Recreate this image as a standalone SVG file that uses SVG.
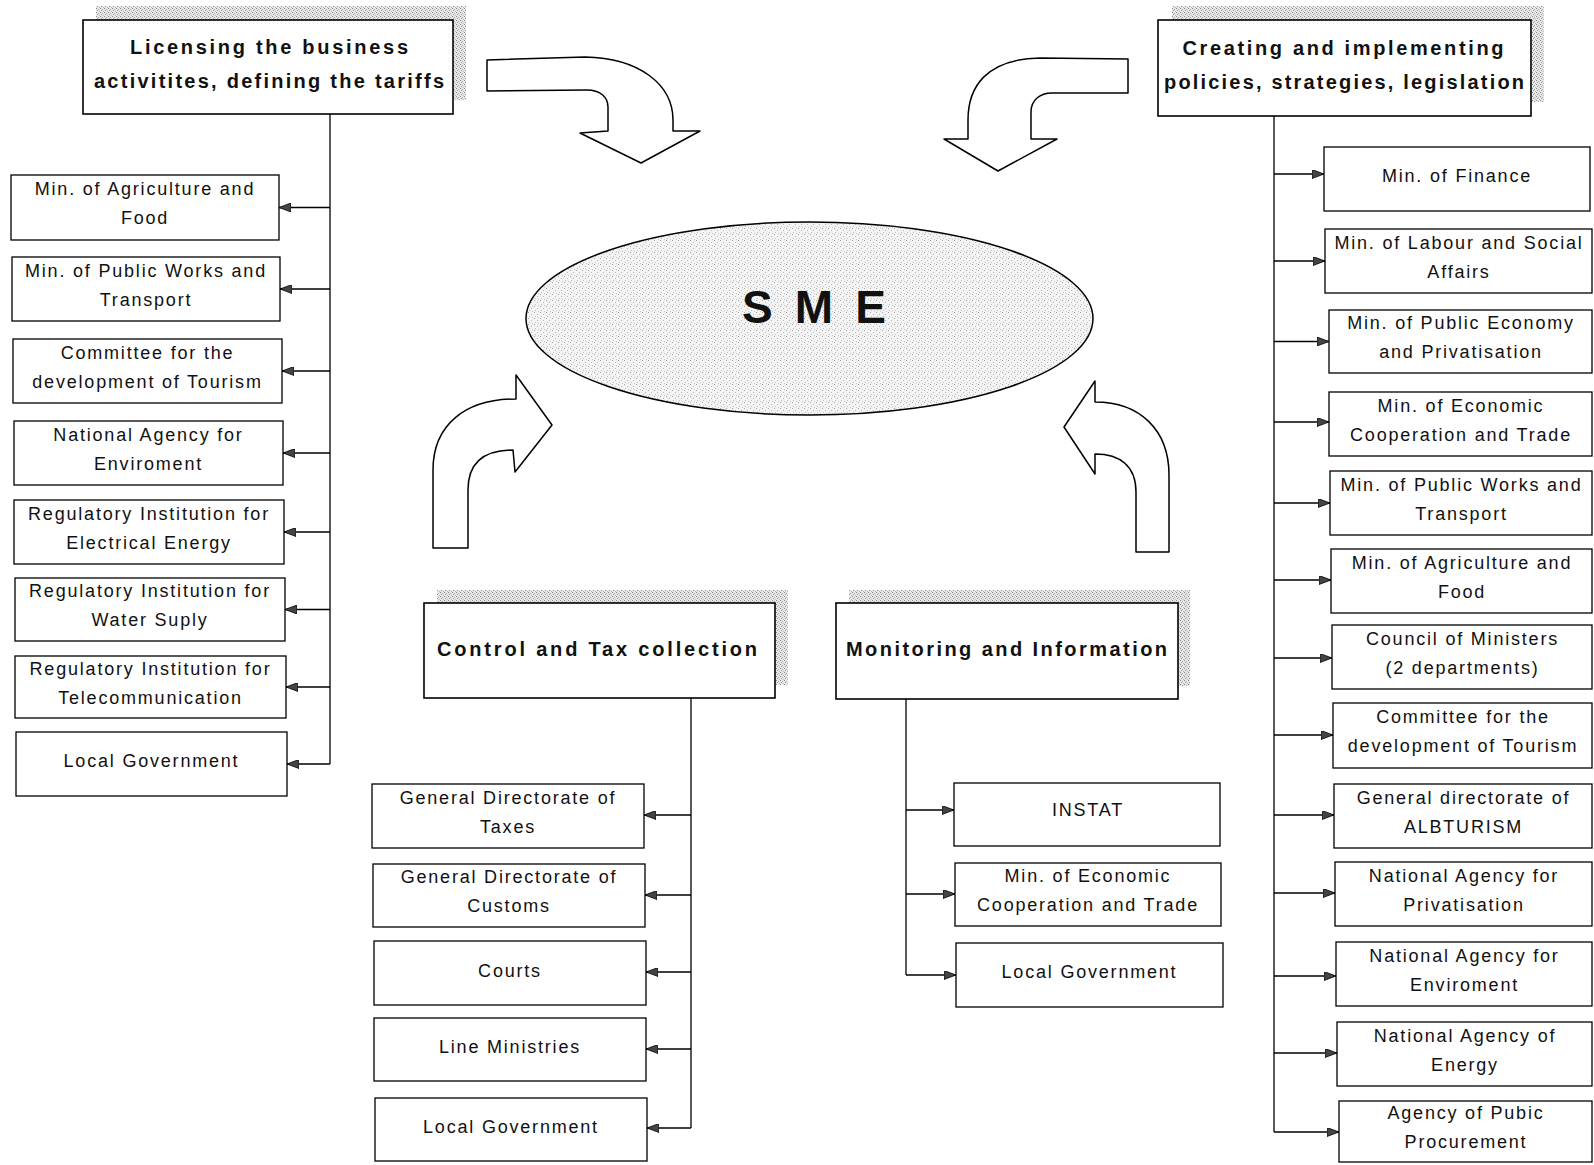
<svg xmlns="http://www.w3.org/2000/svg" width="1594" height="1165" viewBox="0 0 1594 1165">
<defs>
<pattern id="shade" width="4" height="4" patternUnits="userSpaceOnUse">
<rect width="4" height="4" fill="#e8e8e8"/>
<rect x="0" y="0" width="1" height="1" fill="#8a8a8a"/>
<rect x="2" y="1" width="1" height="1" fill="#a8a8a8"/>
<rect x="1" y="2" width="1" height="1" fill="#9a9a9a"/>
<rect x="3" y="3" width="1" height="1" fill="#b8b8b8"/>
</pattern>
<pattern id="ell" width="6" height="6" patternUnits="userSpaceOnUse">
<rect width="6" height="6" fill="#f3f3f3"/>
<rect x="0" y="0" width="1" height="1" fill="#a8a8a8"/>
<rect x="3" y="2" width="1" height="1" fill="#b8b8b8"/>
<rect x="1" y="4" width="1" height="1" fill="#c0c0c0"/>
<rect x="4" y="5" width="1" height="1" fill="#c8c8c8"/>
</pattern>
<marker id="ah" viewBox="0 0 12 9" refX="12" refY="4.5" markerWidth="12" markerHeight="9" markerUnits="userSpaceOnUse" orient="auto">
<path d="M0,0 L12,4.5 L0,9 Z" fill="#444" stroke="#000" stroke-width="0.8"/>
</marker>
<style>
.box{fill:#fff;stroke:#000;stroke-width:1.3}
.hbox{fill:#fff;stroke:#000;stroke-width:1.6}
.shadow{fill:url(#shade);stroke:none}
.t{font-family:"Liberation Sans",Arial,sans-serif;font-size:18px;letter-spacing:1.8px;fill:#111;text-anchor:middle}
.h{font-family:"Liberation Sans",Arial,sans-serif;font-size:20px;font-weight:bold;fill:#111;text-anchor:middle}
.conn{fill:none;stroke:#000;stroke-width:1.3}
.blk{fill:#fff;stroke:#000;stroke-width:1.5;stroke-linejoin:round}
</style>
</defs>
<rect width="1594" height="1165" fill="#fff"/>

<!-- block arrows -->
<g id="block-arrows">
<path class="blk" d="M487,60 L585,57 C640,58 673,85 673,120 L673,131 L700,131 L641,163 L580,133 L608,131 L608,107 C608,97 600,90 587,90 L487,91 Z"/>
<path class="blk" d="M1128,59 L1040,58 C985,59 968,88 968,120 L968,139 L944,139 L998,171 L1057,139 L1031,139 L1031,112 C1031,100 1040,93 1052,93 L1128,93 Z"/>
<path class="blk" d="M433,548 L433,470 C433,425 465,399 516,399 L516,375 L552,425 L515,472 L513,450 C485,450 468,462 468,490 L468,548 Z"/>
<path class="blk" d="M1169,552 L1169,475 C1169,430 1140,402 1095,402 L1095,381 L1064,427 L1095,474 L1095,454 C1120,454 1136,466 1136,492 L1136,552 Z"/>
</g>

<!-- SME -->
<g id="sme">
<ellipse cx="809.5" cy="318.5" rx="283.5" ry="96.5" fill="url(#ell)" stroke="#000" stroke-width="1.5"/>
<text x="814" y="323" font-family="'Liberation Sans',Arial,sans-serif" font-size="46" font-weight="bold" fill="#111" text-anchor="middle" textLength="144" lengthAdjust="spacing">S M E</text>
</g>

<!-- connectors -->
<g id="connectors">
<path class="conn" d="M330,114 L330,764"/>
<path class="conn" d="M330,207.5 L279,207.5" marker-end="url(#ah)"/>
<path class="conn" d="M330,289 L280,289" marker-end="url(#ah)"/>
<path class="conn" d="M330,371 L282,371" marker-end="url(#ah)"/>
<path class="conn" d="M330,453 L283,453" marker-end="url(#ah)"/>
<path class="conn" d="M330,532 L284,532" marker-end="url(#ah)"/>
<path class="conn" d="M330,609.5 L285,609.5" marker-end="url(#ah)"/>
<path class="conn" d="M330,687 L286,687" marker-end="url(#ah)"/>
<path class="conn" d="M330,764 L287,764" marker-end="url(#ah)"/>

<path class="conn" d="M1274,116 L1274,1132"/>
<path class="conn" d="M1274,174 L1324,174" marker-end="url(#ah)"/>
<path class="conn" d="M1274,261 L1325,261" marker-end="url(#ah)"/>
<path class="conn" d="M1274,341.5 L1329,341.5" marker-end="url(#ah)"/>
<path class="conn" d="M1274,422 L1329,422" marker-end="url(#ah)"/>
<path class="conn" d="M1274,503 L1330,503" marker-end="url(#ah)"/>
<path class="conn" d="M1274,580 L1331,580" marker-end="url(#ah)"/>
<path class="conn" d="M1274,658 L1332,658" marker-end="url(#ah)"/>
<path class="conn" d="M1274,735 L1333,735" marker-end="url(#ah)"/>
<path class="conn" d="M1274,815 L1334,815" marker-end="url(#ah)"/>
<path class="conn" d="M1274,893 L1335,893" marker-end="url(#ah)"/>
<path class="conn" d="M1274,976 L1336,976" marker-end="url(#ah)"/>
<path class="conn" d="M1274,1053 L1337,1053" marker-end="url(#ah)"/>
<path class="conn" d="M1274,1132 L1339,1132" marker-end="url(#ah)"/>

<path class="conn" d="M691,698 L691,1128"/>
<path class="conn" d="M691,815 L644,815" marker-end="url(#ah)"/>
<path class="conn" d="M691,895 L645,895" marker-end="url(#ah)"/>
<path class="conn" d="M691,972 L646,972" marker-end="url(#ah)"/>
<path class="conn" d="M691,1049 L646,1049" marker-end="url(#ah)"/>
<path class="conn" d="M691,1128 L647,1128" marker-end="url(#ah)"/>

<path class="conn" d="M906,699 L906,975"/>
<path class="conn" d="M906,810 L954,810" marker-end="url(#ah)"/>
<path class="conn" d="M906,894 L955,894" marker-end="url(#ah)"/>
<path class="conn" d="M906,975 L956,975" marker-end="url(#ah)"/>
</g>

<!-- headers -->
<g id="hdr-licensing">
<rect class="shadow" x="96" y="6" width="370" height="94"/>
<rect class="hbox" x="83" y="20" width="370" height="94"/>
<text class="h" x="269" y="54" textLength="278" lengthAdjust="spacing">Licensing the business</text>
<text class="h" x="269" y="88" textLength="350" lengthAdjust="spacing">activitites, defining the tariffs</text>
</g>
<g id="hdr-creating">
<rect class="shadow" x="1172" y="6" width="372" height="96"/>
<rect class="hbox" x="1158" y="20" width="373" height="96"/>
<text class="h" x="1343" y="55" textLength="321" lengthAdjust="spacing">Creating and implementing</text>
<text class="h" x="1344" y="89" textLength="360" lengthAdjust="spacing">policies, strategies, legislation</text>
</g>
<g id="hdr-control">
<rect class="shadow" x="437" y="590" width="351" height="95"/>
<rect class="hbox" x="424" y="603" width="351" height="95"/>
<text class="h" x="597" y="656" textLength="320" lengthAdjust="spacing">Control and Tax collection</text>
</g>
<g id="hdr-monitoring">
<rect class="shadow" x="849" y="590" width="341" height="96"/>
<rect class="hbox" x="836" y="603" width="342" height="96"/>
<text class="h" x="1006.5" y="656" textLength="321" lengthAdjust="spacing">Monitoring and Information</text>
</g>

<!-- left column -->
<g id="l1"><rect class="box" x="11" y="175" width="268" height="65"/><text class="t" x="145" y="195">Min. of Agriculture and</text><text class="t" x="145" y="224">Food</text></g>
<g id="l2"><rect class="box" x="12" y="257" width="268" height="64"/><text class="t" x="146" y="276.5">Min. of Public Works and</text><text class="t" x="146" y="305.5">Transport</text></g>
<g id="l3"><rect class="box" x="13" y="339" width="269" height="64"/><text class="t" x="147.5" y="358.5">Committee for the</text><text class="t" x="147.5" y="387.5">development of Tourism</text></g>
<g id="l4"><rect class="box" x="14" y="421" width="269" height="64"/><text class="t" x="148.5" y="440.5">National Agency for</text><text class="t" x="148.5" y="469.5">Enviroment</text></g>
<g id="l5"><rect class="box" x="14" y="500" width="270" height="64"/><text class="t" x="149" y="519.5">Regulatory Institution for</text><text class="t" x="149" y="548.5">Electrical Energy</text></g>
<g id="l6"><rect class="box" x="15" y="578" width="270" height="63"/><text class="t" x="150" y="597">Regulatory Institution for</text><text class="t" x="150" y="626">Water Suply</text></g>
<g id="l7"><rect class="box" x="15" y="656" width="271" height="62"/><text class="t" x="150.5" y="674.5">Regulatory Institution for</text><text class="t" x="150.5" y="703.5">Telecommunication</text></g>
<g id="l8"><rect class="box" x="16" y="732" width="271" height="64"/><text class="t" x="151.5" y="767">Local Government</text></g>

<!-- right column -->
<g id="r1"><rect class="box" x="1324" y="147" width="266" height="64"/><text class="t" x="1457" y="182">Min. of Finance</text></g>
<g id="r2"><rect class="box" x="1325" y="229" width="267" height="64"/><text class="t" x="1459" y="248.5">Min. of Labour and Social</text><text class="t" x="1459" y="277.5">Affairs</text></g>
<g id="r3"><rect class="box" x="1329" y="310" width="263" height="63"/><text class="t" x="1461" y="329">Min. of Public Economy</text><text class="t" x="1461" y="358">and Privatisation</text></g>
<g id="r4"><rect class="box" x="1329" y="392" width="263" height="64"/><text class="t" x="1461" y="411.5">Min. of Economic</text><text class="t" x="1461" y="440.5">Cooperation and Trade</text></g>
<g id="r5"><rect class="box" x="1330" y="471" width="262" height="64"/><text class="t" x="1461.5" y="490.5">Min. of Public Works and</text><text class="t" x="1461.5" y="519.5">Transport</text></g>
<g id="r6"><rect class="box" x="1331" y="549" width="261" height="64"/><text class="t" x="1462" y="568.5">Min. of Agriculture and</text><text class="t" x="1462" y="597.5">Food</text></g>
<g id="r7"><rect class="box" x="1332" y="625" width="260" height="64"/><text class="t" x="1462.5" y="644.5">Council of Ministers</text><text class="t" x="1462.5" y="673.5">(2 departments)</text></g>
<g id="r8"><rect class="box" x="1333" y="703" width="259" height="65"/><text class="t" x="1463" y="723">Committee for the</text><text class="t" x="1463" y="752">development of Tourism</text></g>
<g id="r9"><rect class="box" x="1334" y="784" width="258" height="64"/><text class="t" x="1463.5" y="803.5">General directorate of</text><text class="t" x="1463.5" y="832.5">ALBTURISM</text></g>
<g id="r10"><rect class="box" x="1335" y="862" width="257" height="64"/><text class="t" x="1464" y="881.5">National Agency for</text><text class="t" x="1464" y="910.5">Privatisation</text></g>
<g id="r11"><rect class="box" x="1336" y="942" width="256" height="64"/><text class="t" x="1464.5" y="961.5">National Agency for</text><text class="t" x="1464.5" y="990.5">Enviroment</text></g>
<g id="r12"><rect class="box" x="1337" y="1022" width="255" height="64"/><text class="t" x="1465" y="1041.5">National Agency of</text><text class="t" x="1465" y="1070.5">Energy</text></g>
<g id="r13"><rect class="box" x="1339" y="1101" width="253" height="61"/><text class="t" x="1466" y="1119">Agency of Pubic</text><text class="t" x="1466" y="1148">Procurement</text></g>

<!-- control column -->
<g id="c1"><rect class="box" x="372" y="784" width="272" height="64"/><text class="t" x="508" y="803.5">General Directorate of</text><text class="t" x="508" y="832.5">Taxes</text></g>
<g id="c2"><rect class="box" x="373" y="864" width="272" height="63"/><text class="t" x="509" y="883">General Directorate of</text><text class="t" x="509" y="912">Customs</text></g>
<g id="c3"><rect class="box" x="374" y="941" width="272" height="64"/><text class="t" x="510" y="976.5">Courts</text></g>
<g id="c4"><rect class="box" x="374" y="1018" width="272" height="63"/><text class="t" x="510" y="1053">Line Ministries</text></g>
<g id="c5"><rect class="box" x="375" y="1098" width="272" height="63"/><text class="t" x="511" y="1133">Local Government</text></g>

<!-- monitoring column -->
<g id="m1"><rect class="box" x="954" y="783" width="266" height="63"/><text class="t" x="1088" y="816">INSTAT</text></g>
<g id="m2"><rect class="box" x="955" y="863" width="266" height="63"/><text class="t" x="1088" y="882">Min. of Economic</text><text class="t" x="1088" y="911">Cooperation and Trade</text></g>
<g id="m3"><rect class="box" x="956" y="943" width="267" height="64"/><text class="t" x="1089.5" y="978">Local Government</text></g>
</svg>
